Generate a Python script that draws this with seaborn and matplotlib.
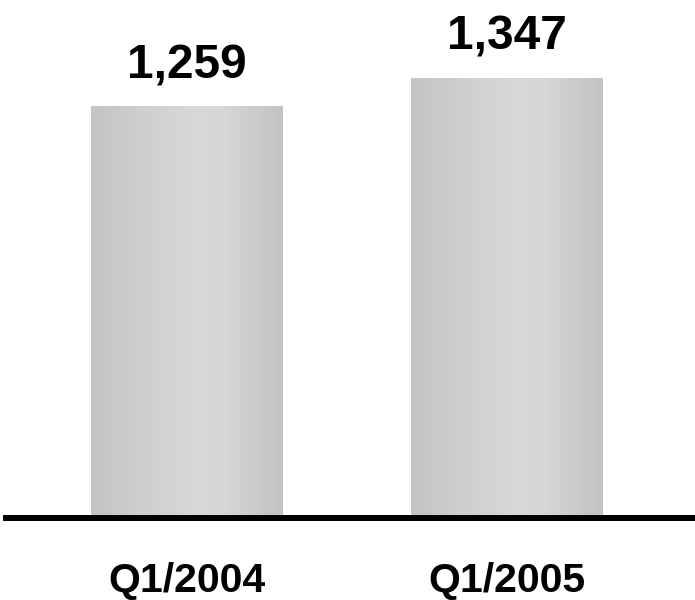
import numpy as np
import pandas as pd
import matplotlib
matplotlib.use("Agg")
import matplotlib.pyplot as plt
import seaborn as sns
from matplotlib.colors import LinearSegmentedColormap

quarters = ["Q1/2004", "Q1/2005"]
values = [1259, 1347]

sns.set_theme(style="white")
plt.rcParams['font.family'] = ['Liberation Sans', 'DejaVu Sans']

fig = plt.figure(figsize=(6.95, 6.0), dpi=100)
ax = fig.add_axes([3 / 695, 82 / 600, 692 / 695, 518 / 600])
df = pd.DataFrame({"quarter": quarters, "value": values})
sns.barplot(data=df, x="quarter", y="value", ax=ax, color="#cfcfcf",
            width=0.597, saturation=1, edgecolor="none")

cmap = LinearSegmentedColormap.from_list(
    "barg", [(0.0, "#c4c4c4"), (0.3, "#d0d0d0"), (0.55, "#d8d8d8"),
             (0.7, "#d6d6d6"), (0.88, "#cacaca"), (1.0, "#c3c3c3")])
grad = np.linspace(0, 1, 256).reshape(1, -1)
for patch, val in zip(ax.patches, values):
    x, w, h = patch.get_x(), patch.get_width(), patch.get_height()
    im = ax.imshow(grad, cmap=cmap, extent=[x, x + w, 0, h], aspect="auto",
                   zorder=patch.get_zorder() + 0.1, interpolation="bilinear")
    im.set_clip_path(patch)
    ax.annotate(f"{val:,}", (x + w / 2, h), xytext=(0, 20), textcoords="offset points",
                ha="center", va="baseline", fontsize=34.5, fontweight="bold", color="black")

ax.set_xlim((3 - 186.5) / 320, (695 - 186.5) / 320)
ax.set_ylim(0, 1584)

ax.axhline(0, color="black", lw=6 * 0.72, clip_on=False, zorder=5,
           solid_capstyle="butt")
for s in ax.spines.values():
    s.set_visible(False)
ax.set_yticks([])
ax.set_xlabel("")
ax.set_ylabel("")
ax.tick_params(axis="x", length=0, pad=32, labelsize=29.5)
for lbl in ax.get_xticklabels():
    lbl.set_fontweight("bold")
    lbl.set_color("black")

fig.savefig("out.png", dpi=100)
